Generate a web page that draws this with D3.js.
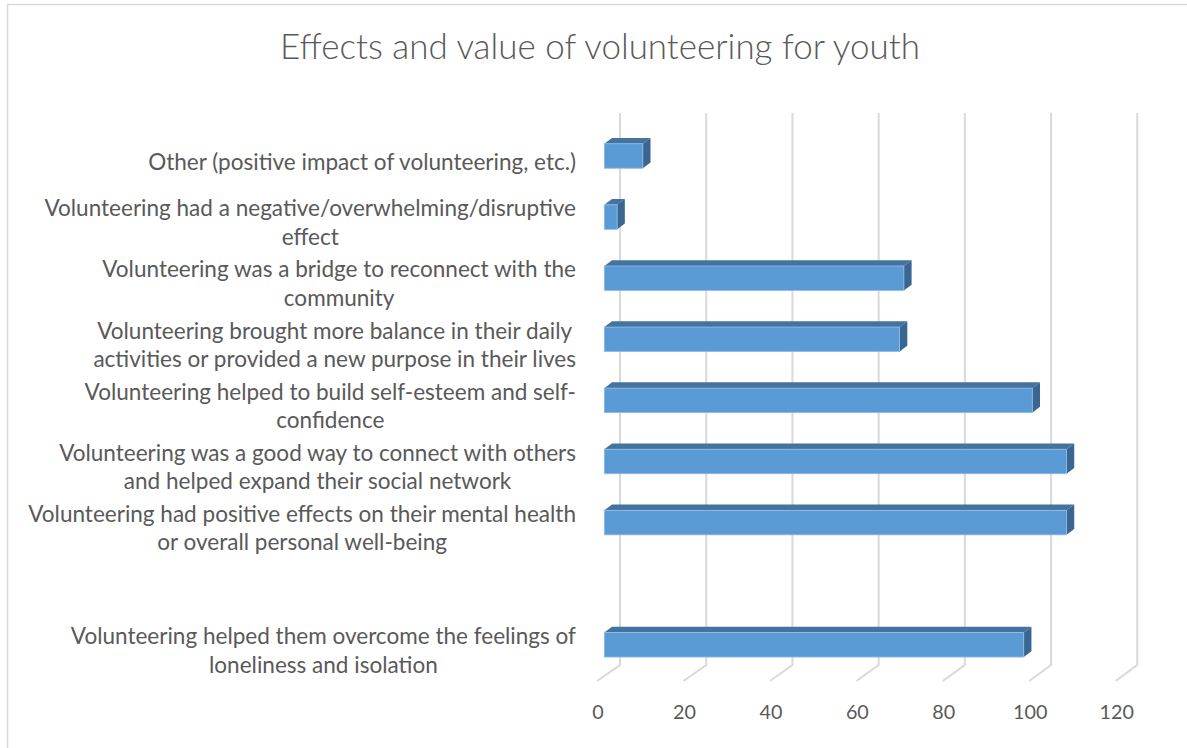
<!DOCTYPE html>
<html><head><meta charset="utf-8">
<script src="https://cdn.jsdelivr.net/npm/d3@7"></script>
<style>html,body{margin:0;padding:0;background:#fff;overflow:hidden}</style>
</head><body>
<svg id="chart" width="1187" height="748"></svg>
<script>
const title = "Effects and value of volunteering for youth";
const categories = [
  ["Other (positive impact of volunteering, etc.)"],
  ["Volunteering had a negative/overwhelming/disruptive", "effect"],
  ["Volunteering was a bridge to reconnect with the", "community"],
  ["Volunteering brought more balance in their daily", "activities or provided a new purpose in their lives"],
  ["Volunteering helped to build self-esteem and self-", "confidence"],
  ["Volunteering was a good way to connect with others", "and helped expand their social network"],
  ["Volunteering had positive effects on their mental health", "or overall personal well-being"],
  [""],
  ["Volunteering helped them overcome the feelings of", "loneliness and isolation"]
];
const values = [9, 3, 70, 69, 100, 108, 108, null, 98];
const ticks = [0, 20, 40, 60, 80, 100, 120];

const svg = d3.select("#chart");
const txt = "#595959", grid = "#d9d9d9";
const font = "Lato, 'Open Sans', sans-serif";

// chart border
svg.append("rect").attr("x", 7.5).attr("y", 4.5).attr("width", 1200).attr("height", 760)
  .attr("fill", "#fff").attr("stroke", grid).attr("stroke-width", 1.5);

// helper to fit font size to target width
function fitSize(sample, family, weight, targetW) {
  const t = svg.append("text").attr("font-family", family).attr("font-weight", weight)
    .attr("font-size", 20).text(sample);
  const w = t.node().getComputedTextLength();
  t.remove();
  return 20 * targetW / w;
}

// title
const titleSize = fitSize(title, font, 300, 640);
svg.append("text").attr("x", 600).attr("y", 59).attr("text-anchor", "middle")
  .attr("font-family", font).attr("font-weight", 300).attr("font-size", titleSize)
  .attr("fill", txt).text(title);

// scales
const xBack = d3.scaleLinear().domain([0, 120]).range([620, 1137.3]);
const xFloor = d3.scaleLinear().domain([0, 120]).range([597, 1115.7]);
const xBar = d3.scaleLinear().domain([0, 120]).range([604.3, 1117.9]);
const idx = categories.map((d, i) => i);
const y = d3.scalePoint().domain(idx).range([156, 644.8]);

const gridTop = 113, gridBot = 665, floorFront = 681;

// gridlines (back wall + floor diagonals)
const g = svg.append("g");
ticks.forEach(t => {
  g.append("path")
    .attr("d", `M${xBack(t)},${gridTop}V${gridBot}L${xFloor(t)},${floorFront}`)
    .attr("fill", "none").attr("stroke", grid).attr("stroke-width", 2);
});

// tick labels
const tickSize = fitSize("100", font, 400, 34.4);
svg.append("g").selectAll("text").data(ticks).join("text")
  .attr("x", d => xFloor(d) + 1).attr("y", 719).attr("text-anchor", "middle")
  .attr("font-family", font).attr("font-size", tickSize).attr("fill", txt)
  .text(d => d);

// bars (3D)
const barH = 24.5, dx = 7.7, dy = -5.8;
const bars = svg.append("g");
idx.forEach(i => {
  const v = values[i];
  if (v == null) return;
  const x0 = xBar(0), x1 = xBar(v);
  const yt = y(i) - barH / 2, yb = y(i) + barH / 2;
  bars.append("path")
    .attr("d", `M${x0},${yt}L${x0 + dx},${yt + dy}L${x1 + dx},${yt + dy}L${x1},${yt}Z`)
    .attr("fill", "#44739f");
  bars.append("path")
    .attr("d", `M${x1},${yt}L${x1 + dx},${yt + dy}L${x1 + dx},${yb + dy}L${x1},${yb}Z`)
    .attr("fill", "#3a6791");
  bars.append("rect").attr("x", x0).attr("y", yt).attr("width", x1 - x0).attr("height", barH)
    .attr("fill", "#5b9bd5").attr("stroke", "#8fbbe6").attr("stroke-width", 0.8);
});

// category labels
const labSize = fitSize(categories[0][0], font, 400, 428);
const lineH = 28.5;
const labels = svg.append("g").attr("font-family", font).attr("font-size", labSize).attr("fill", txt);
idx.forEach(i => {
  const lines = categories[i];
  if (!lines[0]) return;
  const grp = labels.append("g");
  const ts = lines.map(l => grp.append("text").attr("text-anchor", "middle").text(l));
  const maxW = d3.max(ts, t => t.node().getComputedTextLength());
  const cx = 576 - maxW / 2;
  const c = y(i) + 6.5;
  ts.forEach((t, j) => {
    const off = (j - (lines.length - 1) / 2) * lineH;
    t.attr("x", cx).attr("y", c + off + 7);
  });
});
</script>
</body></html>
